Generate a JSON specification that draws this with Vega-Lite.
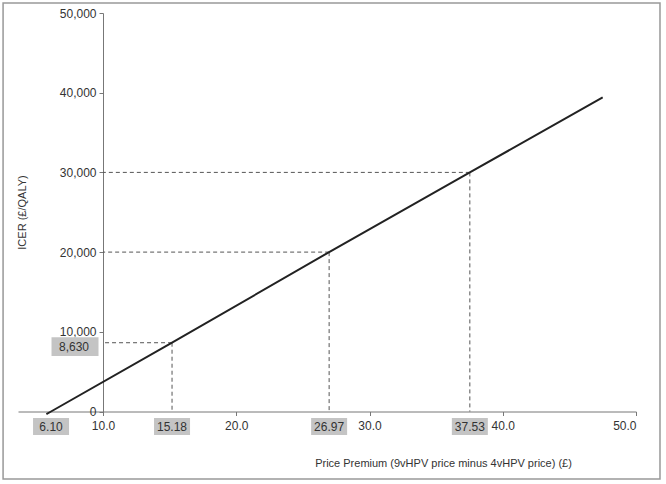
{
  "$schema": "https://vega.github.io/schema/vega-lite/v6.json",
  "width": 618,
  "height": 398.5,
  "autosize": {"type": "none"},
  "padding": {"left": 18, "top": 13, "right": 30, "bottom": 72.5},
  "config": {
    "view": {"stroke": null},
    "font": "Liberation Sans",
    "axis": {
      "grid": false,
      "domainColor": "#777",
      "tickColor": "#777",
      "tickSize": 4,
      "labelColor": "#333",
      "labelFontSize": 12,
      "titleColor": "#333",
      "titleFontSize": 11,
      "titleFontWeight": "normal"
    }
  },
  "datasets": {
    "icer_line": [
      {"premium": 5.75, "icer": -330},
      {"premium": 6.10, "icer": 0},
      {"premium": 15.18, "icer": 8630},
      {"premium": 26.97, "icer": 20000},
      {"premium": 37.53, "icer": 30000},
      {"premium": 47.5, "icer": 39400}
    ],
    "thresholds": [
      {"premium": 15.18, "icer": 8630},
      {"premium": 26.97, "icer": 20000},
      {"premium": 37.53, "icer": 30000}
    ],
    "xmarks": [
      {"premium": 6.10, "label": "6.10"},
      {"premium": 15.18, "label": "15.18"},
      {"premium": 26.97, "label": "26.97"},
      {"premium": 37.53, "label": "37.53"}
    ],
    "ymarks": [
      {"icer": 8630, "label": "8,630"}
    ]
  },
  "layer": [
    {
      "data": {"values": [{}]},
      "mark": {"type": "rect", "filled": false, "stroke": "#999", "strokeWidth": 1.5},
      "encoding": {
        "x": {"datum": 2.5, "type": "quantitative", "title": "Price Premium (9vHPV price minus 4vHPV price) (£)"},
        "x2": {"datum": 51.8},
        "y": {"datum": 51255, "type": "quantitative", "title": "ICER (£/QALY)"},
        "y2": {"datum": -8470}
      }
    },
    {
      "data": {"name": "thresholds"},
      "mark": {"type": "rule", "color": "#555", "strokeWidth": 1, "strokeDash": [4, 3]},
      "encoding": {
        "x": {"field": "premium", "type": "quantitative", "title": "Price Premium (9vHPV price minus 4vHPV price) (£)"},
        "x2": {"datum": 10},
        "y": {"field": "icer", "type": "quantitative", "title": "ICER (£/QALY)"}
      }
    },
    {
      "data": {"name": "thresholds"},
      "mark": {"type": "rule", "color": "#555", "strokeWidth": 1, "strokeDash": [4, 3]},
      "encoding": {
        "x": {"field": "premium", "type": "quantitative", "title": "Price Premium (9vHPV price minus 4vHPV price) (£)"},
        "y": {"field": "icer", "type": "quantitative", "title": "ICER (£/QALY)"},
        "y2": {"datum": 0}
      }
    },
    {
      "data": {"name": "icer_line"},
      "mark": {"type": "line", "color": "#222", "strokeWidth": 2},
      "encoding": {
        "x": {
          "field": "premium",
          "type": "quantitative",
          "title": "Price Premium (9vHPV price minus 4vHPV price) (£)",
          "scale": {"domain": [3.62, 50], "nice": false, "zero": false},
          "axis": {
            "values": [10, 20, 30, 40, 50],
            "format": ".1f",
            "labelPadding": 5,
            "titleX": 425,
            "titleY": 52,
            "titleBaseline": "middle"
          }
        },
        "y": {
          "field": "icer",
          "type": "quantitative",
          "title": "ICER (£/QALY)",
          "scale": {"domain": [0, 50000], "nice": false},
          "axis": {
            "values": [0, 10000, 20000, 30000, 40000, 50000],
            "format": ",.0f",
            "offset": -85,
            "labelPadding": 3,
            "titleX": -81,
            "titleY": 199,
            "titleBaseline": "middle"
          }
        }
      }
    },
    {
      "data": {"name": "xmarks"},
      "mark": {"type": "point", "filled": true, "opacity": 1, "color": "#c4c4c4", "shape": "M-1,-0.47H1V0.47H-1Z", "size": 1296, "yOffset": 15},
      "encoding": {
        "x": {"field": "premium", "type": "quantitative", "title": "Price Premium (9vHPV price minus 4vHPV price) (£)"},
        "y": {"datum": 0, "type": "quantitative", "title": "ICER (£/QALY)"}
      }
    },
    {
      "data": {"name": "xmarks"},
      "mark": {"type": "text", "color": "#333", "fontSize": 12, "baseline": "middle", "dy": 15},
      "encoding": {
        "x": {"field": "premium", "type": "quantitative", "title": "Price Premium (9vHPV price minus 4vHPV price) (£)"},
        "y": {"datum": 0, "type": "quantitative", "title": "ICER (£/QALY)"},
        "text": {"field": "label"}
      }
    },
    {
      "data": {"name": "ymarks"},
      "mark": {"type": "point", "filled": true, "opacity": 1, "color": "#c4c4c4", "shape": "M-1,-0.4H1V0.4H-1Z", "size": 2209, "xOffset": -28, "yOffset": 4},
      "encoding": {
        "x": {"datum": 10, "type": "quantitative", "title": "Price Premium (9vHPV price minus 4vHPV price) (£)"},
        "y": {"field": "icer", "type": "quantitative", "title": "ICER (£/QALY)"}
      }
    },
    {
      "data": {"name": "ymarks"},
      "mark": {"type": "text", "color": "#333", "fontSize": 12, "baseline": "middle", "dx": -29, "dy": 4},
      "encoding": {
        "x": {"datum": 10, "type": "quantitative", "title": "Price Premium (9vHPV price minus 4vHPV price) (£)"},
        "y": {"field": "icer", "type": "quantitative", "title": "ICER (£/QALY)"},
        "text": {"field": "label"}
      }
    }
  ]
}
